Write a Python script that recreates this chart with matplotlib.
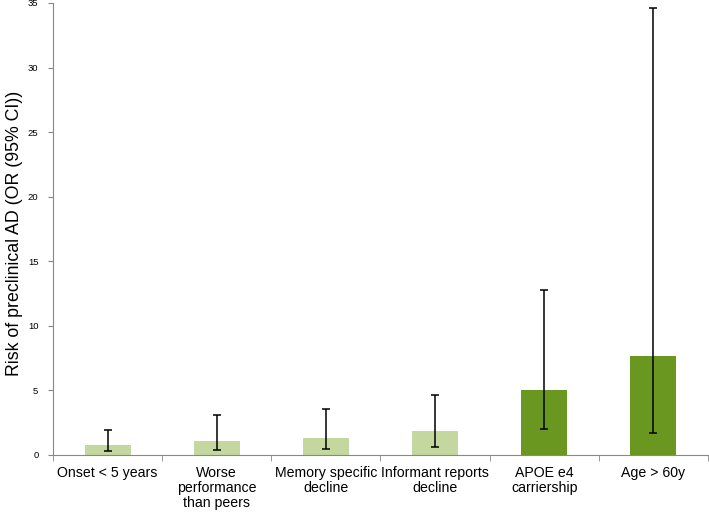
import matplotlib
matplotlib.use("Agg")
import matplotlib.pyplot as plt
import numpy as np

plt.rcParams['font.family'] = ['Liberation Sans', 'DejaVu Sans']

categories = ["Onset < 5 years", "Worse\nperformance\nthan peers", "Memory specific\ndecline",
              "Informant reports\ndecline", "APOE e4\ncarriership", "Age > 60y"]
odds = [0.78, 1.09, 1.32, 1.86, 5.04, 7.68]
ci_low = [0.31, 0.39, 0.47, 0.62, 2.0, 1.7]
ci_high = [1.94, 3.1, 3.57, 4.65, 12.8, 34.6]
colors = ['#c4d79e', '#c4d79e', '#c4d79e', '#c4d79e', '#6a971f', '#6a971f']

x = np.arange(len(categories))
err = [np.array(odds) - np.array(ci_low), np.array(ci_high) - np.array(odds)]

fig = plt.figure(figsize=(7.09, 5.12), dpi=100)
ax = fig.add_axes([53/709, 57/512, 655/709, 452/512])

ax.bar(x, odds, width=0.42, color=colors, zorder=2)
ax.errorbar(x, odds, yerr=err, fmt='none', ecolor='black', elinewidth=1.1,
            capsize=2.6, capthick=1.1, zorder=3)

ax.set_xlim(-0.5, len(categories) - 0.5)
ax.set_ylim(0, 35)
ax.set_yticks(range(0, 36, 5))
ax.tick_params(axis='y', labelsize=6.8, length=3.5, color='#888888', pad=7)

ax.set_xticks(x)
ax.set_xticklabels(categories, fontsize=10.2, linespacing=1.1)
ax.tick_params(axis='x', length=0, pad=8)
ax.set_xticks(np.arange(-0.5, len(categories)), minor=True)
ax.tick_params(axis='x', which='minor', length=4, color='#888888')

for s in ['top', 'right']:
    ax.spines[s].set_visible(False)
for s in ['left', 'bottom']:
    ax.spines[s].set_color('#888888')

ax.set_ylabel("Risk of preclinical AD (OR (95% CI))", fontsize=12.8)
ax.yaxis.set_label_coords(-0.046, 0.49)

fig.savefig("out.png", dpi=100)
